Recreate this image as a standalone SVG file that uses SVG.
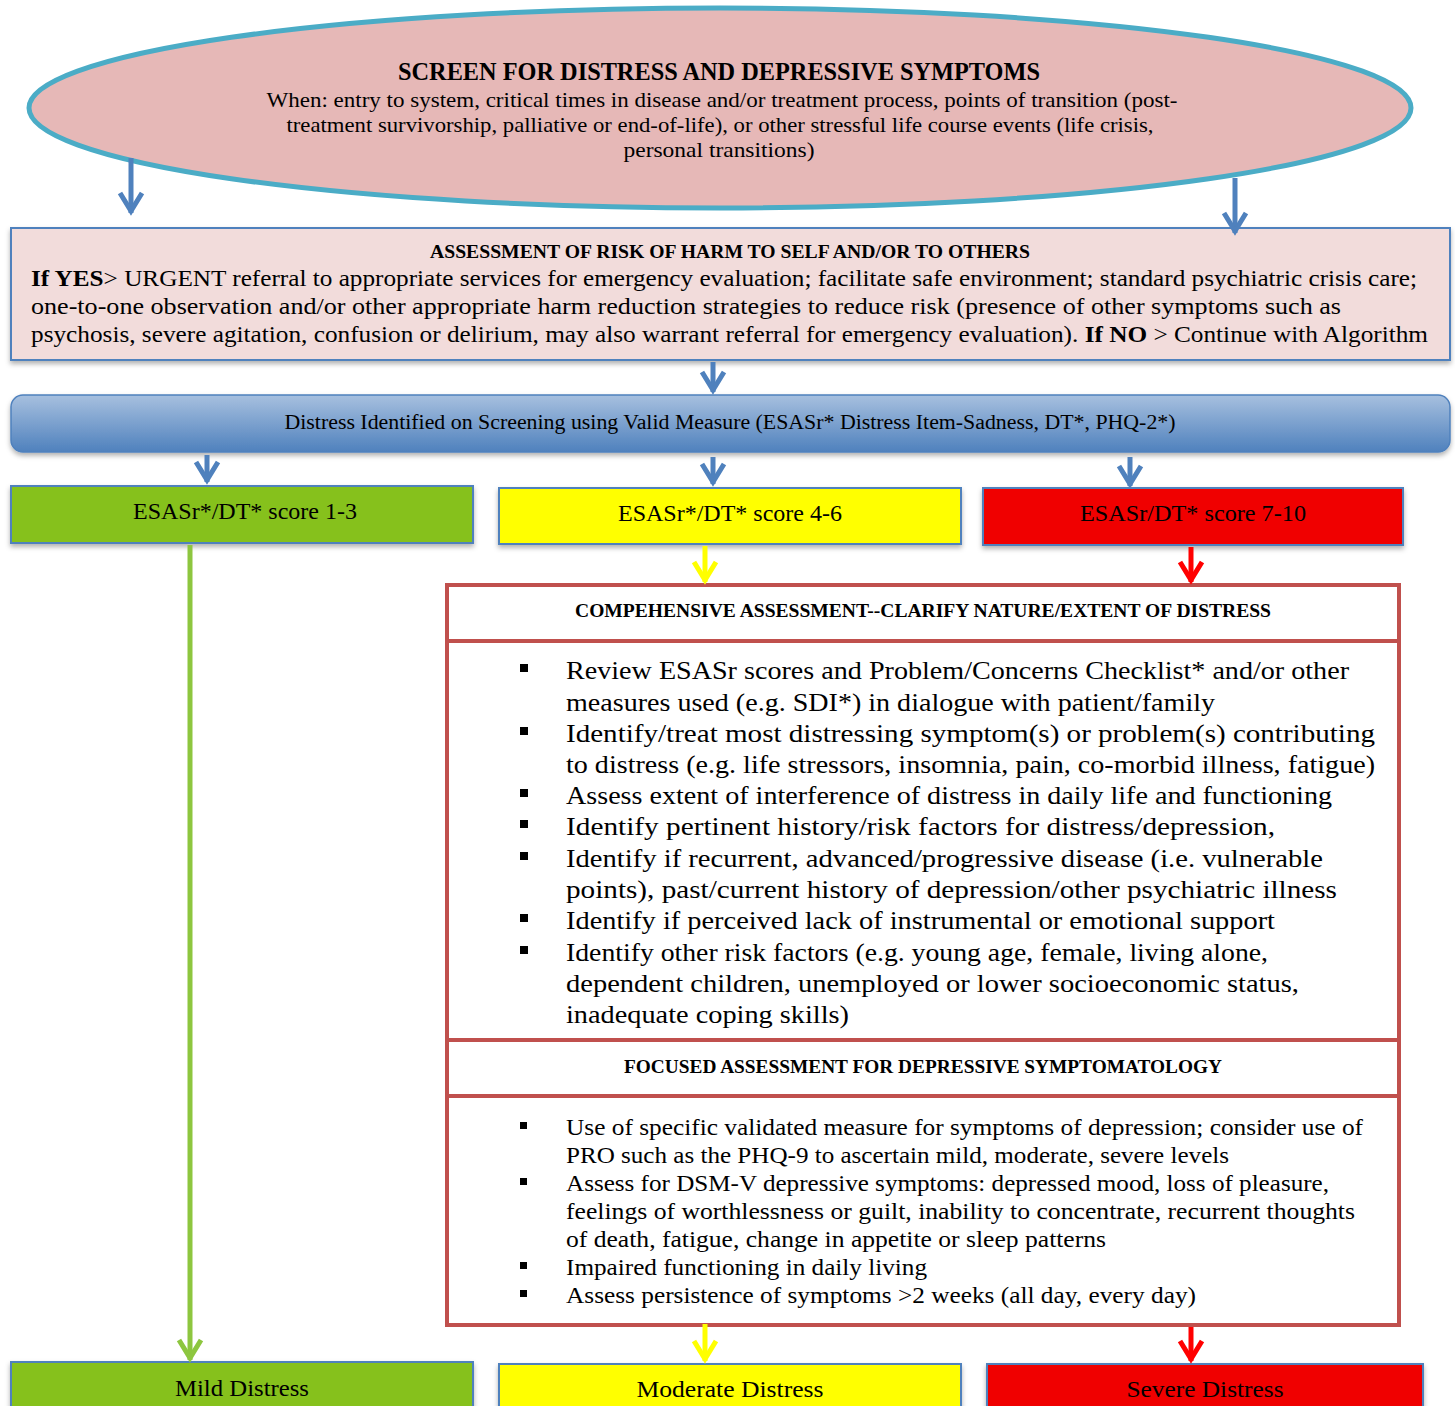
<svg xmlns="http://www.w3.org/2000/svg" width="1455" height="1406" viewBox="0 0 1455 1406">
<style>
text{font-family:"Liberation Serif","Times New Roman",serif;fill:#000}
.b{font-weight:bold}
.c{text-anchor:middle}
.conn{fill:none;stroke-width:5}
</style>
<defs>
<linearGradient id="bg" x1="0" y1="0" x2="0" y2="1">
<stop offset="0" stop-color="#a7c0df"/>
<stop offset="1" stop-color="#4f81bd"/>
</linearGradient>
<filter id="sh" x="-5%" y="-20%" width="110%" height="150%">
<feDropShadow dx="0" dy="3" stdDeviation="2.5" flood-color="#000" flood-opacity="0.3"/>
</filter>
<marker id="ab" markerUnits="userSpaceOnUse" markerWidth="30" markerHeight="30" viewBox="-25 -15 30 30" refX="0" refY="0" orient="auto">
<path d="M-20,-11 L-2,0 L-20,11" fill="none" stroke="#4f81bd" stroke-width="5"/>
</marker>
<marker id="ag" markerUnits="userSpaceOnUse" markerWidth="30" markerHeight="30" viewBox="-25 -15 30 30" refX="0" refY="0" orient="auto">
<path d="M-20,-11 L-2,0 L-20,11" fill="none" stroke="#8dc63f" stroke-width="5"/>
</marker>
<marker id="ay" markerUnits="userSpaceOnUse" markerWidth="30" markerHeight="30" viewBox="-25 -15 30 30" refX="0" refY="0" orient="auto">
<path d="M-20,-11 L-2,0 L-20,11" fill="none" stroke="#ffff00" stroke-width="5"/>
</marker>
<marker id="ar" markerUnits="userSpaceOnUse" markerWidth="30" markerHeight="30" viewBox="-25 -15 30 30" refX="0" refY="0" orient="auto">
<path d="M-20,-11 L-2,0 L-20,11" fill="none" stroke="#ff0000" stroke-width="5"/>
</marker>
</defs>
<rect width="1455" height="1406" fill="#fff"/>

<g id="screen">
<ellipse cx="720" cy="108" rx="691" ry="100" fill="#e6b8b7" stroke="#4bacc6" stroke-width="5"/>
<text class="b c" x="719" y="80" font-size="25" textLength="642" lengthAdjust="spacingAndGlyphs">SCREEN FOR DISTRESS AND DEPRESSIVE SYMPTOMS</text>
<text class="c" x="722" y="107" font-size="21" textLength="911" lengthAdjust="spacingAndGlyphs">When: entry to system, critical times in disease and/or treatment process, points of transition (post-</text>
<text class="c" x="720" y="132" font-size="21" textLength="867" lengthAdjust="spacingAndGlyphs">treatment survivorship, palliative or end-of-life), or other stressful life course events (life crisis,</text>
<text class="c" x="719" y="157" font-size="21" textLength="191" lengthAdjust="spacingAndGlyphs">personal transitions)</text>
</g>

<g id="risk">
<rect x="11" y="228" width="1439" height="132" fill="#f2dcdb" stroke="#4f81bd" stroke-width="2" filter="url(#sh)"/>
<text class="b c" x="730" y="258" font-size="19" textLength="600" lengthAdjust="spacingAndGlyphs">ASSESSMENT OF RISK OF HARM TO SELF AND/OR TO OTHERS</text>
<text x="31" y="286" font-size="23" textLength="1386" lengthAdjust="spacingAndGlyphs"><tspan class="b">If YES</tspan>&gt; URGENT referral to appropriate services for emergency evaluation; facilitate safe environment; standard psychiatric crisis care;</text>
<text x="31" y="314" font-size="23" textLength="1310" lengthAdjust="spacingAndGlyphs">one-to-one observation and/or other appropriate harm reduction strategies to reduce risk (presence of other symptoms such as</text>
<text x="31" y="342" font-size="23" textLength="1397" lengthAdjust="spacingAndGlyphs">psychosis, severe agitation, confusion or delirium, may also warrant referral for emergency evaluation). <tspan class="b">If NO</tspan> &gt; Continue with Algorithm</text>
</g>

<g id="distress">
<rect x="11" y="395" width="1439" height="57" rx="12" fill="url(#bg)" stroke="#4f81bd" stroke-width="1.5" filter="url(#sh)"/>
<text class="c" x="730" y="429" font-size="20" textLength="891" lengthAdjust="spacingAndGlyphs">Distress Identified on Screening using Valid Measure (ESASr* Distress Item-Sadness, DT*, PHQ-2*)</text>
</g>

<g id="score13">
<rect x="11" y="486" width="462" height="57" fill="#86c11f" stroke="#4f81bd" stroke-width="2" filter="url(#sh)"/>
<text class="c" x="245" y="519" font-size="23" textLength="224" lengthAdjust="spacingAndGlyphs">ESASr*/DT* score 1-3</text>
</g>
<g id="score46">
<rect x="499" y="488" width="462" height="56" fill="#ffff00" stroke="#4f81bd" stroke-width="2" filter="url(#sh)"/>
<text class="c" x="730" y="521" font-size="23" textLength="224" lengthAdjust="spacingAndGlyphs">ESASr*/DT* score 4-6</text>
</g>
<g id="score710">
<rect x="983" y="488" width="420" height="57" fill="#f00000" stroke="#4f81bd" stroke-width="2" filter="url(#sh)"/>
<text class="c" x="1193" y="521" font-size="23" textLength="226" lengthAdjust="spacingAndGlyphs">ESASr/DT* score 7-10</text>
</g>

<g id="assessment">
<rect x="447" y="585" width="952" height="740" fill="#fff" stroke="#c0504d" stroke-width="4"/>
<line x1="447" y1="641" x2="1399" y2="641" stroke="#c0504d" stroke-width="4"/>
<line x1="447" y1="1040" x2="1399" y2="1040" stroke="#c0504d" stroke-width="4"/>
<line x1="447" y1="1096" x2="1399" y2="1096" stroke="#c0504d" stroke-width="4"/>
<text class="b c" x="923" y="617" font-size="19" textLength="696" lengthAdjust="spacingAndGlyphs">COMPEHENSIVE ASSESSMENT--CLARIFY NATURE/EXTENT OF DISTRESS</text>
<g fill="#000">
<rect x="520" y="664" width="8" height="8"/>
<rect x="520" y="727" width="8" height="8"/>
<rect x="520" y="789" width="8" height="8"/>
<rect x="520" y="820" width="8" height="8"/>
<rect x="520" y="852" width="8" height="8"/>
<rect x="520" y="914" width="8" height="8"/>
<rect x="520" y="946" width="8" height="8"/>
</g>
<g font-size="26">
<text x="566" y="679" textLength="783" lengthAdjust="spacingAndGlyphs">Review ESASr scores and Problem/Concerns Checklist* and/or other</text>
<text x="566" y="711" textLength="649" lengthAdjust="spacingAndGlyphs">measures used (e.g. SDI*) in dialogue with patient/family</text>
<text x="566" y="742" textLength="809" lengthAdjust="spacingAndGlyphs">Identify/treat most distressing symptom(s) or problem(s) contributing</text>
<text x="566" y="773" textLength="809" lengthAdjust="spacingAndGlyphs">to distress (e.g. life stressors, insomnia, pain, co-morbid illness, fatigue)</text>
<text x="566" y="804" textLength="766" lengthAdjust="spacingAndGlyphs">Assess extent of interference of distress in daily life and functioning</text>
<text x="566" y="835" textLength="709" lengthAdjust="spacingAndGlyphs">Identify pertinent history/risk factors for distress/depression,</text>
<text x="566" y="867" textLength="757" lengthAdjust="spacingAndGlyphs">Identify if recurrent, advanced/progressive disease (i.e. vulnerable</text>
<text x="566" y="898" textLength="771" lengthAdjust="spacingAndGlyphs">points), past/current history of depression/other psychiatric illness</text>
<text x="566" y="929" textLength="709" lengthAdjust="spacingAndGlyphs">Identify if perceived lack of instrumental or emotional support</text>
<text x="566" y="961" textLength="702" lengthAdjust="spacingAndGlyphs">Identify other risk factors (e.g. young age, female, living alone,</text>
<text x="566" y="992" textLength="733" lengthAdjust="spacingAndGlyphs">dependent children, unemployed or lower socioeconomic status,</text>
<text x="566" y="1023" textLength="283" lengthAdjust="spacingAndGlyphs">inadequate coping skills)</text>
</g>
<text class="b c" x="923" y="1073" font-size="19" textLength="598" lengthAdjust="spacingAndGlyphs">FOCUSED ASSESSMENT FOR DEPRESSIVE SYMPTOMATOLOGY</text>
<g fill="#000">
<rect x="520" y="1122" width="7" height="7"/>
<rect x="520" y="1178" width="7" height="7"/>
<rect x="520" y="1262" width="7" height="7"/>
<rect x="520" y="1290" width="7" height="7"/>
</g>
<g font-size="23">
<text x="566" y="1135" textLength="797" lengthAdjust="spacingAndGlyphs">Use of specific validated measure for symptoms of depression; consider use of</text>
<text x="566" y="1163" textLength="663" lengthAdjust="spacingAndGlyphs">PRO such as the PHQ-9 to ascertain mild, moderate, severe levels</text>
<text x="566" y="1191" textLength="763" lengthAdjust="spacingAndGlyphs">Assess for DSM-V depressive symptoms: depressed mood, loss of pleasure,</text>
<text x="566" y="1219" textLength="789" lengthAdjust="spacingAndGlyphs">feelings of worthlessness or guilt, inability to concentrate, recurrent thoughts</text>
<text x="566" y="1247" textLength="540" lengthAdjust="spacingAndGlyphs">of death, fatigue, change in appetite or sleep patterns</text>
<text x="566" y="1275" textLength="361" lengthAdjust="spacingAndGlyphs">Impaired functioning in daily living</text>
<text x="566" y="1303" textLength="630" lengthAdjust="spacingAndGlyphs">Assess persistence of symptoms &gt;2 weeks (all day, every day)</text>
</g>
</g>

<g id="mild">
<rect x="11" y="1362" width="462" height="60" fill="#86c11f" stroke="#4f81bd" stroke-width="2" filter="url(#sh)"/>
<text class="c" x="242" y="1396" font-size="23" textLength="134" lengthAdjust="spacingAndGlyphs">Mild Distress</text>
</g>
<g id="moderate">
<rect x="499" y="1364" width="462" height="60" fill="#ffff00" stroke="#4f81bd" stroke-width="2" filter="url(#sh)"/>
<text class="c" x="730" y="1397" font-size="23" textLength="187" lengthAdjust="spacingAndGlyphs">Moderate Distress</text>
</g>
<g id="severe">
<rect x="987" y="1364" width="436" height="60" fill="#f00000" stroke="#4f81bd" stroke-width="2" filter="url(#sh)"/>
<text class="c" x="1205" y="1397" font-size="23" textLength="157" lengthAdjust="spacingAndGlyphs">Severe Distress</text>
</g>

<g id="connectors">
<path class="conn" d="M131,158 L131,213" stroke="#4f81bd" marker-end="url(#ab)"/>
<path class="conn" d="M1235,178 L1235,233" stroke="#4f81bd" marker-end="url(#ab)"/>
<path class="conn" d="M713,362 L713,392" stroke="#4f81bd" marker-end="url(#ab)"/>
<path class="conn" d="M207,455 L207,482" stroke="#4f81bd" marker-end="url(#ab)"/>
<path class="conn" d="M713,457 L713,484" stroke="#4f81bd" marker-end="url(#ab)"/>
<path class="conn" d="M1130,457 L1130,486" stroke="#4f81bd" marker-end="url(#ab)"/>
<path class="conn" d="M190,545 L190,1360" stroke="#8dc63f" marker-end="url(#ag)"/>
<path class="conn" d="M705,546 L705,582" stroke="#ffff00" marker-end="url(#ay)"/>
<path class="conn" d="M1191,547 L1191,582" stroke="#ff0000" marker-end="url(#ar)"/>
<path class="conn" d="M705,1324 L705,1361" stroke="#ffff00" marker-end="url(#ay)"/>
<path class="conn" d="M1191,1327 L1191,1361" stroke="#ff0000" marker-end="url(#ar)"/>
</g>
</svg>
